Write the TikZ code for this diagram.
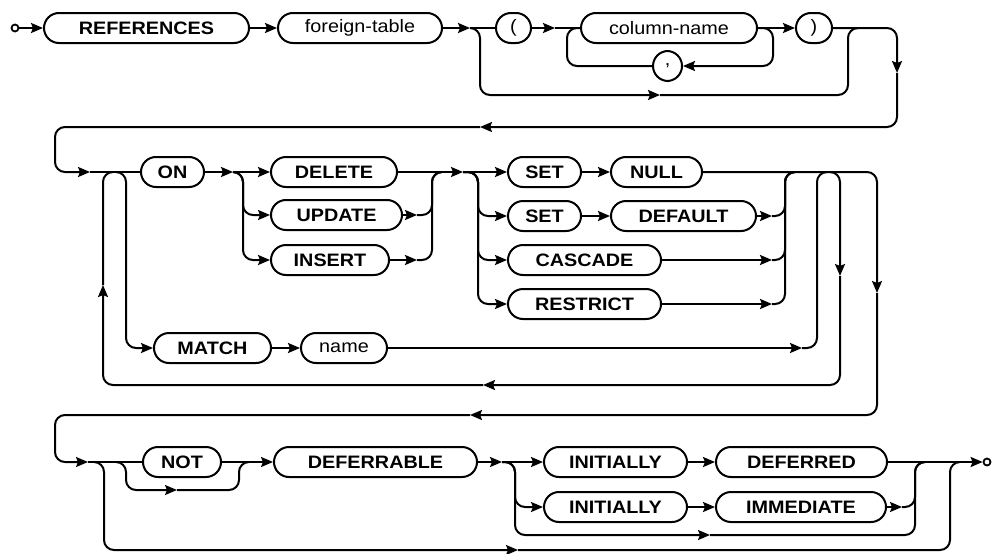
\documentclass[tikz,border=0pt]{standalone}
\usepackage{fontspec}
\newfontfamily\diagfont{Liberation Sans}[FakeStretch=1.1]
\usetikzlibrary{arrows.meta}
\tikzset{
  term/.style    = {draw, line width=2pt, rounded corners=15pt, minimum height=30pt,
                    inner sep=0pt, font=\diagfont\fontsize{18}{20}\selectfont\bfseries},
  nonterm/.style = {term, font=\diagfont\fontsize{18}{20}\selectfont},
  wire/.style    = {line width=2pt, rounded corners=10pt},
  endpt/.style   = {circle, draw, line width=1.8pt, minimum size=7pt, inner sep=0pt},
  >={Stealth[length=12pt,width=10pt,inset=2pt]}
}

\begin{document}
\begin{tikzpicture}[x=1pt,y=-1pt]
    \useasboundingbox (0,0) rectangle (993,554);

    % first line: REFERENCES foreign-table ( column-name , ... )
    \node[endpt] (start) at (15,28) {};
    \node[term, minimum width=205]   (refs)    at (146.5,28) {REFERENCES};
    \node[nonterm, minimum width=164] (ftab)   at (360,28)   {foreign-table};
    \node[nonterm, minimum width=35]  (lpar)   at (513.5,28) {(};
    \node[nonterm, minimum width=176] (colname) at (669,28)  {column-name};
    \node[nonterm, minimum width=29]  (comma)  at (667.5,66) {,};
    \node[nonterm, minimum width=36]  (rpar)   at (814,28)   {)};

    \coordinate (ftabx) at (470,28);
    \coordinate (lparx) at (555,28);
    \coordinate (skip1) at (660,95);
    \coordinate (down1) at (897,73);
    \coordinate (back1) at (480,127);
    \coordinate (in2)   at (90,172);

    \draw[wire,->] (start) -- (refs);
    \draw[wire,->] (refs) -- (ftab);
    \draw[wire,->] (ftab) -- (ftabx);
    \draw[wire]    (ftabx) -- (lpar);
    \draw[wire,->] (lpar) -- (lparx);
    \draw[wire]    (lparx) -- (colname);
    \draw[wire,->] (colname) -- (rpar);
    % list loop
    \draw[wire,->] (colname.east) -- (773,28) -- (773,66) -- (comma.east);
    \draw[wire]    (comma.west) -- (567,66) -- (567,28) -- (colname.west);
    % no column list
    \draw[wire,->] (ftabx) -- (480,28) -- (480,95) -- (skip1);
    \draw[wire]    (skip1) -- (848,95) -- (848,28) -- (858,28);
    % on to the second line
    \draw[wire,->] (rpar) -- (897,28) -- (down1);
    \draw[wire,->] (down1) -- (897,127) -- (back1);
    \draw[wire,->] (back1) -- (55,127) -- (55,172) -- (in2);

    % second line: ON ... / MATCH name
    \node[term, minimum width=63]  (on)    at (172.5,172) {ON};
    \node[term, minimum width=126] (del)   at (334,172)   {DELETE};
    \node[term, minimum width=131] (upd)   at (336.5,215) {UPDATE};
    \node[term, minimum width=118] (ins)   at (330,260)   {INSERT};
    \node[term, minimum width=73]  (set1)  at (544.5,172) {SET};
    \node[term, minimum width=91]  (null)  at (656.5,172) {NULL};
    \node[term, minimum width=73]  (set2)  at (544.5,216) {SET};
    \node[term, minimum width=145] (dflt)  at (683.5,216) {DEFAULT};
    \node[term, minimum width=153] (casc)  at (584.5,260) {CASCADE};
    \node[term, minimum width=153] (restr) at (584.5,304) {RESTRICT};
    \node[term, minimum width=117] (match) at (212.5,348) {MATCH};
    \node[nonterm, minimum width=86] (mname) at (344,348) {name};

    \coordinate (onx)    at (233,172);
    \coordinate (updx)   at (417,215);
    \coordinate (insx)   at (417,260);
    \coordinate (act)    at (463,172);
    \coordinate (dfltx)  at (772,216);
    \coordinate (cascx)  at (772,260);
    \coordinate (restrx) at (772,304);
    \coordinate (mnamex) at (802,348);
    \coordinate (loopdn) at (840,276);
    \coordinate (looplt) at (483,385);
    \coordinate (loopup) at (103,285);
    \coordinate (down2)  at (877,293);
    \coordinate (back2)  at (470,415);
    \coordinate (in3)    at (88,462);

    \draw[wire] (in2) -- (on);
    \draw[wire,->] (on) -- (onx);
    \draw[wire,->] (onx) -- (del);
    \draw[wire,->] (onx) -- (243,172) -- (243,215) -- (upd.west);
    \draw[wire,->] (onx) -- (243,172) -- (243,260) -- (ins.west);
    \draw[wire,->] (del) -- (act);
    \draw[wire,->] (upd) -- (updx);
    \draw[wire]    (updx) -- (432,215) -- (432,172) -- (442,172);
    \draw[wire,->] (ins) -- (insx);
    \draw[wire]    (insx) -- (432,260) -- (432,172) -- (442,172);

    \draw[wire,->] (act) -- (set1);
    \draw[wire,->] (act) -- (478,172) -- (478,216) -- (set2.west);
    \draw[wire,->] (act) -- (478,172) -- (478,260) -- (casc.west);
    \draw[wire,->] (act) -- (478,172) -- (478,304) -- (restr.west);
    \draw[wire,->] (set1) -- (null);
    \draw[wire,->] (set2) -- (dflt);
    \draw[wire,->] (dflt) -- (dfltx);
    \draw[wire]    (dfltx) -- (785,216) -- (785,172) -- (795,172);
    \draw[wire,->] (casc) -- (cascx);
    \draw[wire]    (cascx) -- (785,260) -- (785,172) -- (795,172);
    \draw[wire,->] (restr) -- (restrx);
    \draw[wire]    (restrx) -- (785,304) -- (785,172) -- (795,172);

    \draw[wire,->] (116,172) -- (126,172) -- (126,348) -- (match.west);
    \draw[wire,->] (match) -- (mname);
    \draw[wire,->] (mname) -- (mnamex);
    \draw[wire]    (mnamex) -- (817,348) -- (817,172) -- (827,172);

    % repeat loop
    \draw[wire,->] (830,172) -- (840,172) -- (loopdn);
    \draw[wire,->] (loopdn) -- (840,385) -- (looplt);
    \draw[wire,->] (looplt) -- (103,385) -- (loopup);
    \draw[wire]    (loopup) -- (103,172) -- (113,172);

    % on to the third line
    \draw[wire,->] (null) -- (877,172) -- (down2);
    \draw[wire,->] (down2) -- (877,415) -- (back2);
    \draw[wire,->] (back2) -- (55,415) -- (55,462) -- (in3);

    % third line: NOT DEFERRABLE INITIALLY ...
    \node[term, minimum width=78]  (notkw)  at (182,462)   {NOT};
    \node[term, minimum width=203] (defer)  at (375.5,462) {DEFERRABLE};
    \node[term, minimum width=143] (ini1)   at (615.5,462) {INITIALLY};
    \node[term, minimum width=171] (deferd) at (801.5,462) {DEFERRED};
    \node[term, minimum width=143] (ini2)   at (615.5,507) {INITIALLY};
    \node[term, minimum width=170] (immed)  at (801,507)   {IMMEDIATE};
    \node[endpt] (finish) at (987,462) {};

    \coordinate (skip3) at (518,550);
    \coordinate (skipn) at (177,490);
    \coordinate (defx)  at (502,462);
    \coordinate (skipi) at (710,535);
    \coordinate (immx)  at (902,507);

    \draw[wire] (in3) -- (notkw);
    \draw[wire,->] (94,462) -- (104,462) -- (104,550) -- (skip3);
    \draw[wire]    (skip3) -- (950,550) -- (950,462) -- (960,462);
    \draw[wire,->] (116,462) -- (126,462) -- (126,490) -- (skipn);
    \draw[wire]    (skipn) -- (239,490) -- (239,462) -- (249,462);
    \draw[wire,->] (notkw) -- (defer);
    \draw[wire,->] (defer) -- (defx);
    \draw[wire,->] (defx) -- (ini1);
    \draw[wire,->] (defx) -- (515,462) -- (515,507) -- (ini2.west);
    \draw[wire,->] (defx) -- (515,462) -- (515,535) -- (skipi);
    \draw[wire]    (skipi) -- (915,535) -- (915,462) -- (925,462);
    \draw[wire,->] (ini1) -- (deferd);
    \draw[wire,->] (ini2) -- (immed);
    \draw[wire,->] (immed) -- (immx);
    \draw[wire]    (immx) -- (915,507) -- (915,462) -- (925,462);
    \draw[wire,->] (deferd) -- (finish);
\end{tikzpicture}
\end{document}
